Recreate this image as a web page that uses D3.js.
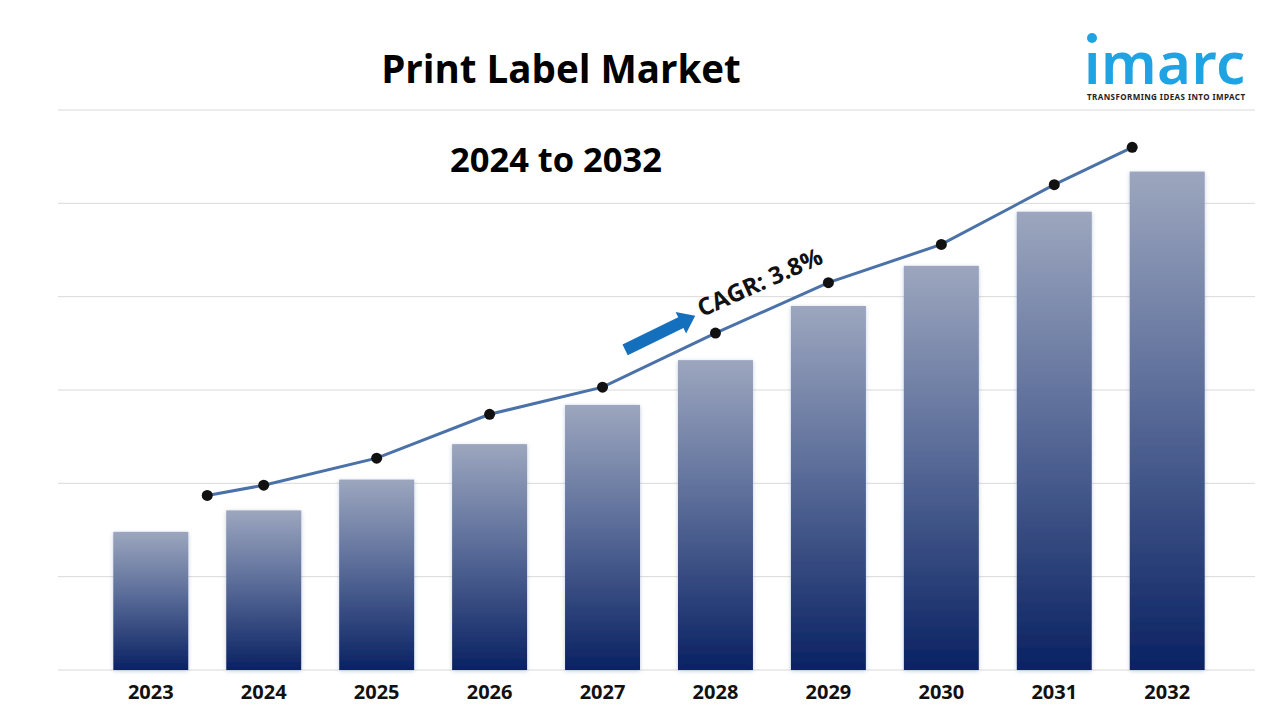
<!DOCTYPE html>
<html>
<head>
<meta charset="utf-8">
<script src="https://cdn.jsdelivr.net/npm/d3@7"></script>
<style>
  html, body { margin: 0; padding: 0; background: #fff; }
  svg { display: block; }
</style>
</head>
<body>
<script>
// chart values
const years = ["2023", "2024", "2025", "2026", "2027", "2028", "2029", "2030", "2031", "2032"];
const barValues = [1.48, 1.71, 2.04, 2.42, 2.84, 3.32, 3.90, 4.33, 4.91, 5.34];
// the trend line starts a little right of the first bar and ends left of the last one
const lineYears = [2023.5, 2024, 2025, 2026, 2027, 2028, 2029, 2030, 2031, 2031.69];
const lineValues = [1.87, 1.98, 2.27, 2.74, 3.03, 3.61, 4.15, 4.56, 5.20, 5.60];
const gridTicks = [0, 1, 2, 3, 4, 5, 6];
const title = "Print Label Market";
const subtitle = "2024 to 2032";
const cagrLabel = "CAGR: 3.8%";

const width = 1280, height = 720;

const svg = d3.select('body')
    .append('svg')
    .attr('width', width)
    .attr('height', height)

const defs = svg.append('defs')
const grad = defs.append('linearGradient')
    .attr('id', 'barGrad')
    .attr('x1', 0).attr('y1', 0).attr('x2', 0).attr('y2', 1)
grad.append('stop').attr('offset', '0%').attr('stop-color', '#9ca6be')
grad.append('stop').attr('offset', '45%').attr('stop-color', '#5b6d99')
grad.append('stop').attr('offset', '100%').attr('stop-color', '#0a2263')

const shadow = defs.append('filter')
    .attr('id', 'barShadow')
    .attr('x', '-20%').attr('y', '-5%').attr('width', '140%').attr('height', '110%')
shadow.append('feDropShadow')
    .attr('dx', 0).attr('dy', 1)
    .attr('stdDeviation', 2)
    .attr('flood-color', '#7b8fb8')
    .attr('flood-opacity', 0.45)

// scales
const x = d3.scaleBand()
    .domain(years)
    .range([102, 1216])
    .paddingInner(0.336)
    .paddingOuter(0.1)

const xLin = d3.scaleLinear()
    .domain([2023, 2032])
    .range([x("2023") + x.bandwidth() / 2, x("2032") + x.bandwidth() / 2])

const y = d3.scaleLinear()
    .domain([0, 6])
    .range([670, 110])

// grid lines
svg.append('g')
    .selectAll('line')
    .data(gridTicks)
    .join('line')
    .attr('x1', 58)
    .attr('x2', 1255)
    .attr('y1', d => y(d))
    .attr('y2', d => y(d))
    .attr('stroke', '#d9d9d9')
    .attr('stroke-width', 1)

// bars
svg.append('g')
    .selectAll('rect')
    .data(years)
    .join('rect')
    .attr('x', d => x(d))
    .attr('y', (d, i) => y(barValues[i]))
    .attr('width', x.bandwidth())
    .attr('height', (d, i) => y(0) - y(barValues[i]))
    .attr('fill', 'url(#barGrad)')
    .attr('filter', 'url(#barShadow)')

// year labels under the bars
const xAxis = svg.append('g')
    .attr('transform', `translate(0, ${y(0)})`)
    .call(d3.axisBottom(x).tickSize(0).tickPadding(8))
xAxis.select('.domain').remove()
xAxis.selectAll('text')
    .attr('dy', '1.05em')
    .attr('font-family', '"Open Sans", sans-serif')
    .attr('font-weight', 700)
    .attr('font-size', 20)
    .attr('fill', '#111')

// trend line
const linePts = lineYears.map((d, i) => [xLin(d), y(lineValues[i])])
svg.append('path')
    .datum(linePts)
    .attr('d', d3.line())
    .attr('fill', 'none')
    .attr('stroke', '#4b72a8')
    .attr('stroke-width', 3)

svg.append('g')
    .selectAll('circle')
    .data(linePts)
    .join('circle')
    .attr('cx', d => d[0])
    .attr('cy', d => d[1])
    .attr('r', 5.5)
    .attr('fill', '#111')

// CAGR arrow + label, placed around the 2027-2028 segment
const arrow = svg.append('g')
    .attr('transform', `translate(${xLin(2027.2)}, ${y(3.43)}) rotate(-26)`)
arrow.append('path')
    .attr('d', 'M0,-6 L62,-6 L62,-12 L78,0 L62,12 L62,6 L0,6 Z')
    .attr('fill', '#1470bd')

svg.append('text')
    .attr('transform', `translate(${xLin(2027.88)}, ${y(3.78)}) rotate(-24)`)
    .attr('font-family', '"Open Sans", sans-serif')
    .attr('font-weight', 700)
    .attr('font-size', 24)
    .attr('fill', '#111')
    .text(cagrLabel)

// titles
svg.append('text')
    .attr('x', 561)
    .attr('y', 83)
    .attr('text-anchor', 'middle')
    .attr('font-family', '"Open Sans", sans-serif')
    .attr('font-weight', 700)
    .attr('font-size', 38.5)
    .attr('fill', '#000')
    .text(title)

svg.append('text')
    .attr('x', 556)
    .attr('y', 172)
    .attr('text-anchor', 'middle')
    .attr('font-family', '"Open Sans", sans-serif')
    .attr('font-weight', 700)
    .attr('font-size', 34.5)
    .attr('fill', '#000')
    .text(subtitle)

// imarc logo
const logo = svg.append('g')
logo.append('circle')
    .attr('cx', 1092).attr('cy', 38).attr('r', 5)
    .attr('fill', '#1fa3e3')
logo.append('text')
    .attr('x', 1084)
    .attr('y', 84)
    .attr('textLength', 161)
    .attr('font-family', '"Noto Sans", sans-serif')
    .attr('font-weight', 600)
    .attr('font-size', 58)
    .attr('fill', '#1fa3e3')
    .text('ımarc')
logo.append('text')
    .attr('x', 1087)
    .attr('y', 100)
    .attr('textLength', 158)
    .attr('font-family', '"Noto Sans", sans-serif')
    .attr('font-weight', 700)
    .attr('font-size', 8)
    .attr('fill', '#222')
    .text('TRANSFORMING IDEAS INTO IMPACT')
</script>
</body>
</html>
